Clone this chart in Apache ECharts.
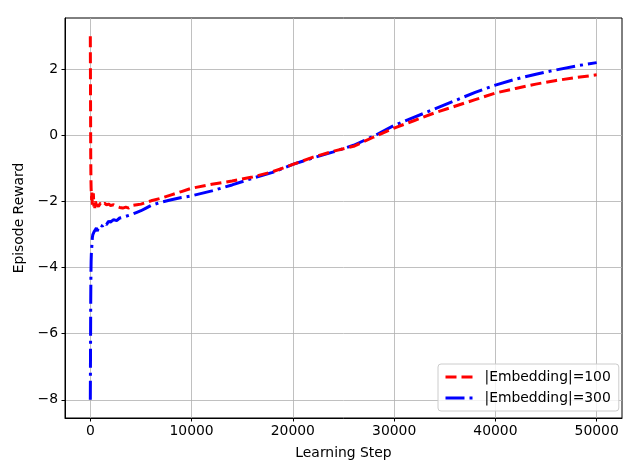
<!DOCTYPE html>
<html><head><meta charset="utf-8">
<script src="https://cdn.jsdelivr.net/npm/echarts@6/dist/echarts.min.js"></script>
<style>html,body{margin:0;padding:0;background:#fff}#c{width:640px;height:476px}</style>
</head><body><div id="c"></div>
<script>
var xTicks = [0, 10000, 20000, 30000, 40000, 50000];
var yTicks = [-8, -6, -4, -2, 0, 2];

var steps100 = [0, 20, 40, 60, 80, 100, 130, 160, 200, 250, 300, 350, 400, 450, 500, 600, 700, 800, 900, 1000,
  1200, 1400, 1600, 1800, 2000, 2300, 2600, 2900, 3200, 3500, 3800, 4200, 4600, 5000, 5500, 6000, 7000, 8000, 9000, 10000,
  12000, 14000, 16000, 18000, 20000, 22000, 24000, 26000, 28000, 30000, 32000, 34000, 36000, 38000, 40000,
  42000, 44000, 46000, 48000, 50000];
var reward100 = [3.0, 1.2, -0.6, -1.3, -1.6, -1.75, -1.95, -1.7, -2.1, -2.0, -1.75, -2.15, -2.05, -2.2, -2.0, -2.1, -2.05, -2.15, -2.1, -2.05,
  -2.1, -2.05, -2.1, -2.08, -2.12, -2.1, -2.15, -2.18, -2.2, -2.17, -2.2, -2.12, -2.1, -2.08, -2.03, -1.98, -1.9, -1.8, -1.7, -1.6,
  -1.48, -1.38, -1.26, -1.1, -0.88, -0.66, -0.48, -0.33, -0.05, 0.22, 0.45, 0.68, 0.88, 1.08, 1.28,
  1.42, 1.55, 1.66, 1.75, 1.83];

var steps300 = [0, 20, 40, 60, 80, 100, 130, 160, 200, 250, 300, 350, 400, 500, 600, 700, 800, 900, 1000,
  1200, 1400, 1600, 1800, 2000, 2300, 2600, 2900, 3200, 3500, 3800, 4200, 4600, 5000, 5500, 6000, 7000, 8000, 9000, 10000,
  12000, 14000, 16000, 18000, 20000, 22000, 24000, 26000, 28000, 30000, 32000, 34000, 36000, 38000, 40000,
  42000, 44000, 46000, 48000, 50000];
var reward300 = [-8.0, -6.5, -5.0, -4.2, -3.8, -3.6, -3.45, -3.3, -3.1, -3.0, -2.95, -3.05, -2.9, -2.85, -2.8, -2.9, -2.75, -2.8, -2.72,
  -2.75, -2.65, -2.7, -2.6, -2.62, -2.55, -2.58, -2.5, -2.48, -2.45, -2.42, -2.38, -2.33, -2.28, -2.2, -2.12, -2.02, -1.95, -1.88, -1.83,
  -1.68, -1.5, -1.3, -1.12, -0.88, -0.68, -0.5, -0.3, -0.02, 0.3, 0.55, 0.8, 1.05, 1.3, 1.52,
  1.7, 1.85, 1.98, 2.1, 2.2];

function zip(a, b) { return a.map(function (v, i) { return [v, b[i]]; }); }
var FONT = 'DejaVu Sans';
function fmt(v) { return v < 0 ? '\u2212' + (-v) : String(v); }

var chart = echarts.init(document.getElementById('c'), null, {renderer: 'canvas'});
chart.setOption({
  animation: false,
  backgroundColor: '#fff',
  grid: {left: 65, right: 18, top: 18, bottom: 58, show: true, borderColor: '#000', borderWidth: 1, backgroundColor: 'transparent'},
  xAxis: {
    type: 'value', min: -2500, max: 52500, splitNumber: 5,
    name: 'Learning Step', nameLocation: 'middle', nameGap: 28,
    nameTextStyle: {fontFamily: FONT, fontSize: 13.9, color: '#000'},
    axisLine: {show: true, onZero: false, lineStyle: {color: '#000', width: 1}},
    axisTick: {show: true, length: 3.5, customValues: xTicks, lineStyle: {color: '#000'}},
    axisLabel: {customValues: xTicks, margin: 6, fontFamily: FONT, fontSize: 13.9, color: '#000', formatter: fmt},
    splitLine: {show: true, lineStyle: {color: '#b0b0b0', width: 0.8}}
  },
  yAxis: {
    type: 'value', min: -8.55, max: 3.55, splitNumber: 6,
    name: 'Episode Reward', nameLocation: 'middle', nameGap: 33,
    nameTextStyle: {fontFamily: FONT, fontSize: 13.9, color: '#000'},
    axisLine: {show: true, onZero: false, lineStyle: {color: '#000', width: 1}},
    axisTick: {show: true, length: 3.5, customValues: yTicks, lineStyle: {color: '#000'}},
    axisLabel: {customValues: yTicks, margin: 7, fontFamily: FONT, fontSize: 13.9, color: '#000', formatter: fmt},
    splitLine: {show: true, lineStyle: {color: '#b0b0b0', width: 0.8}}
  },
  legend: {
    orient: 'vertical', left: 438, top: 364,
    padding: [6, 8, 6, 6], itemGap: 7, itemWidth: 28, itemHeight: 14,
    borderColor: '#cccccc', borderWidth: 1, borderRadius: 3, backgroundColor: 'rgba(255,255,255,0.8)',
    itemStyle: {opacity: 0},
    lineStyle: {width: 3},
    textStyle: {fontFamily: FONT, fontSize: 13.9, color: '#000', padding: [0, 0, 0, 6]},
    data: ['|Embedding|=100', '|Embedding|=300']
  },
  series: [
    {name: '|Embedding|=100', type: 'line', data: zip(steps100, reward100), showSymbol: false, symbol: 'none',
     color: '#ff0000', lineStyle: {color: '#ff0000', width: 3, type: [11, 5]}, z: 3},
    {name: '|Embedding|=300', type: 'line', data: zip(steps300, reward300), showSymbol: false, symbol: 'none',
     color: '#0000ff', lineStyle: {color: '#0000ff', width: 3, type: [19, 5, 3, 5]}, z: 2}
  ]
});
</script></body></html>
